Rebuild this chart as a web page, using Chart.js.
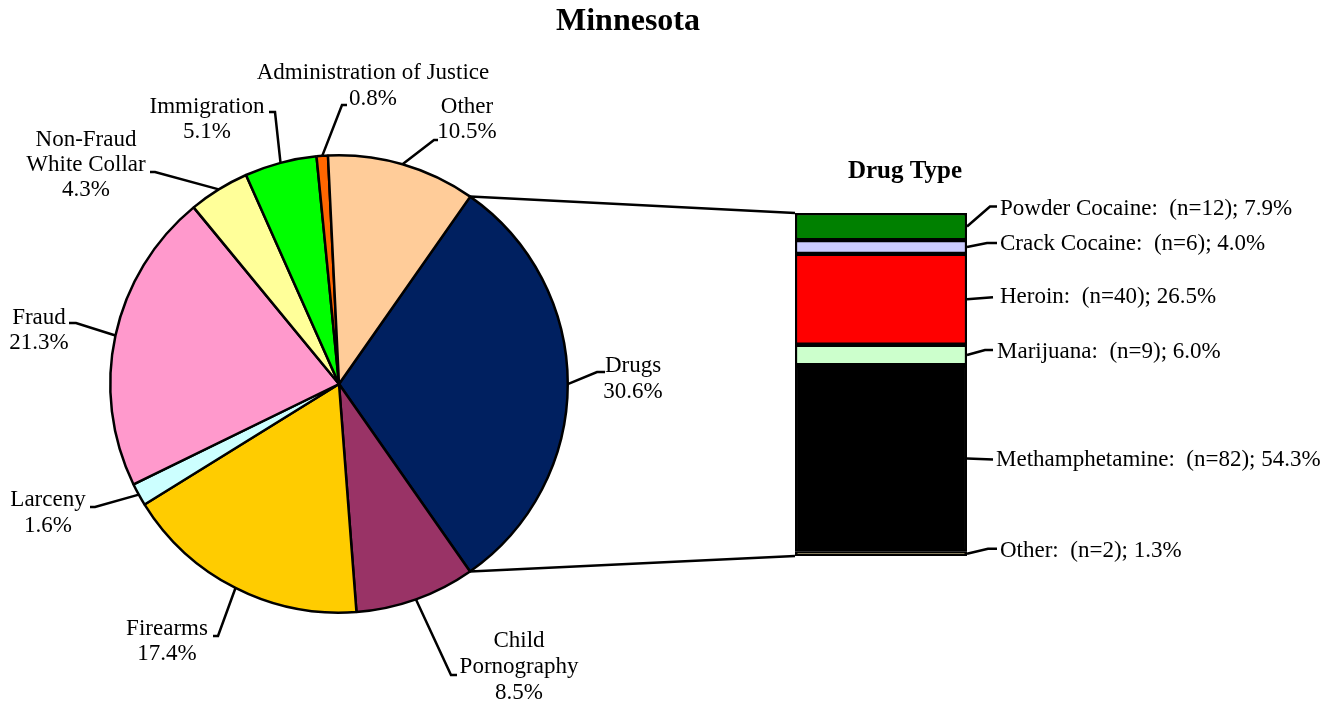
<!DOCTYPE html>
<html>
<head>
<meta charset="utf-8">
<script src="https://cdn.jsdelivr.net/npm/chart.js@4.4.0/dist/chart.umd.min.js"></script>
<style>
  html, body { margin: 0; padding: 0; background: #fff; }
  #wrap { position: relative; width: 1329px; height: 704px; }
  #wrap canvas { position: absolute; left: 0; top: 0; }
</style>
</head>
<body>
<div id="wrap">
  <canvas id="canvas-pie" width="1329" height="704"></canvas>
  <canvas id="canvas-bar" width="1329" height="704"></canvas>
</div>
<script>
// offense categories (pie)
const offenseNames = [['Drugs'], ['Child', 'Pornography'], ['Firearms'], ['Larceny'], ['Fraud'],
    ['Non-Fraud', 'White Collar'], ['Immigration'], ['Administration of Justice'], ['Other']];
const offenseShares = [30.6, 8.5, 17.4, 1.6, 21.3, 4.3, 5.1, 0.8, 10.5];
const offenseColors = ['#002060', '#993366', '#FFCC00', '#CCFFFF', '#FF99CC', '#FFFF99', '#00FF00', '#FF6600', '#FFCC99'];

// drug types (stacked bar), bottom to top
const drugTypes = ['Other', 'Methamphetamine', 'Marijuana', 'Heroin', 'Crack Cocaine', 'Powder Cocaine'];
const drugCounts = [2, 82, 9, 40, 6, 12];
const drugShares = [1.3, 54.3, 6.0, 26.5, 4.0, 7.9];
const drugColors = ['#8C7A3C', '#000000', '#CCFFCC', '#FF0000', '#CCCCFF', '#008000'];

const FONT = "'Liberation Serif', 'Times New Roman', serif";
const LABEL_SIZE = 23;

// label placement relative to pie centre: elbow, end of leader, text centre, line y's
const pieLabelLayout = [
    { ex: 258, ey: -12, hx: 266, tx: 294, ty: [-18, 8] },
    { ex: 112, ey: 291, hx: 118, tx: 180, ty: [257, 283, 309] },
    { ex: -121, ey: 252, hx: -126, tx: -172, ty: [245, 270] },
    { ex: -244, ey: 123, hx: -249, tx: -291, ty: [116, 142] },
    { ex: -263, ey: -61, hx: -270, tx: -300, ty: [-66, -41] },
    { ex: -184, ey: -212, hx: -189, tx: -253, ty: [-244, -219, -194] },
    { ex: -64, ey: -272, hx: -70, tx: -132, ty: [-277, -252] },
    { ex: 3, ey: -279, hx: 8, tx: 34, ty: [-311, -285] },
    { ex: 95, ey: -244, hx: 99, tx: 128, ty: [-277, -252] }
];

// bar label placement relative to the segment's right edge / middle
const barLabelLayout = [
    { ex: 21, ey: -5, hx: 30, tx: 33, ty: -3 },      // Other
    { ex: 26, ey: 1, hx: 26, tx: 29, ty: 2 },        // Methamphetamine
    { ex: 18, ey: -5, hx: 26, tx: 30, ty: -3 },      // Marijuana
    { ex: 26, ey: -2, hx: 26, tx: 33, ty: -2 },      // Heroin
    { ex: 20, ey: -4, hx: 30, tx: 33, ty: -3 },      // Crack Cocaine
    { ex: 23, ey: -20, hx: 30, tx: 33, ty: -18 }     // Powder Cocaine
];

const pieLabels = {
    id: 'pieLabels',
    afterDatasetsDraw(chart) {
        const ctx = chart.ctx;
        const arcs = chart.getDatasetMeta(0).data;
        ctx.save();
        ctx.strokeStyle = '#000';
        ctx.lineWidth = 2.5;
        ctx.fillStyle = '#000';
        ctx.font = LABEL_SIZE + 'px ' + FONT;
        ctx.textAlign = 'center';
        ctx.textBaseline = 'middle';
        arcs.forEach((arc, i) => {
            const cx = arc.x, cy = arc.y;
            const mid = (arc.startAngle + arc.endAngle) / 2;
            const sx = cx + Math.cos(mid) * arc.outerRadius;
            const sy = cy + Math.sin(mid) * arc.outerRadius;
            const lay = pieLabelLayout[i];
            ctx.beginPath();
            ctx.moveTo(sx, sy);
            ctx.lineTo(cx + lay.ex, cy + lay.ey);
            ctx.lineTo(cx + lay.hx, cy + lay.ey);
            ctx.stroke();
            const lines = offenseNames[i].concat([offenseShares[i].toFixed(1) + '%']);
            lines.forEach((t, k) => ctx.fillText(t, cx + lay.tx, cy + lay.ty[k]));
        });
        ctx.font = 'bold 32px ' + FONT;
        ctx.fillText('Minnesota', 628, 22);
        ctx.restore();
    }
};

const pieChart = new Chart(document.getElementById('canvas-pie'), {
    type: 'pie',
    data: {
        labels: offenseNames.map(n => n.join(' ')),
        datasets: [{
            data: offenseShares,
            backgroundColor: offenseColors,
            borderColor: '#000',
            borderWidth: 2.5
        }]
    },
    options: {
        responsive: false,
        animation: false,
        rotation: 35,
        layout: { padding: { left: 109, top: 154, right: 760, bottom: 90 } },
        plugins: { legend: { display: false }, tooltip: { enabled: false } }
    },
    plugins: [pieLabels]
});

const barLabels = {
    id: 'barLabels',
    afterDatasetsDraw(chart) {
        const ctx = chart.ctx;
        ctx.save();
        ctx.strokeStyle = '#000';
        ctx.fillStyle = '#000';
        ctx.lineWidth = 2.5;
        ctx.font = LABEL_SIZE + 'px ' + FONT;
        ctx.textBaseline = 'middle';
        let top = Infinity, bottom = -Infinity, left = 0, right = 0;
        drugTypes.forEach((name, i) => {
            const bar = chart.getDatasetMeta(i).data[0];
            right = bar.x + bar.width / 2;
            left = bar.x - bar.width / 2;
            top = Math.min(top, bar.y);
            bottom = Math.max(bottom, bar.base);
            const my = (bar.y + bar.base) / 2;
            const lay = barLabelLayout[i];
            ctx.beginPath();
            ctx.moveTo(right, my);
            ctx.lineTo(right + lay.ex, my + lay.ey);
            ctx.lineTo(right + lay.hx, my + lay.ey);
            ctx.stroke();
            ctx.textAlign = 'left';
            ctx.fillText(name + ':  (n=' + drugCounts[i] + '); ' + drugShares[i].toFixed(1) + '%', right + lay.tx, my + lay.ty);
        });

        // connector lines from the Drugs slice to the bar
        const drugs = pieChart.getDatasetMeta(0).data[0];
        ctx.lineWidth = 2.5;
        ctx.beginPath();
        ctx.moveTo(drugs.x + Math.cos(drugs.startAngle) * drugs.outerRadius, drugs.y + Math.sin(drugs.startAngle) * drugs.outerRadius);
        ctx.lineTo(left, top);
        ctx.moveTo(drugs.x + Math.cos(drugs.endAngle) * drugs.outerRadius, drugs.y + Math.sin(drugs.endAngle) * drugs.outerRadius);
        ctx.lineTo(left, bottom);
        ctx.stroke();

        ctx.textAlign = 'center';
        ctx.font = 'bold 25px ' + FONT;
        ctx.fillText('Drug Type', (left + right) / 2 + 24, 172);
        ctx.restore();
    }
};

new Chart(document.getElementById('canvas-bar'), {
    type: 'bar',
    data: {
        labels: ['Drugs'],
        datasets: drugTypes.map((name, i) => ({
            label: name,
            data: [drugShares[i]],
            backgroundColor: drugColors[i],
            borderColor: '#000',
            borderWidth: 2.5,
            borderSkipped: false,
            barPercentage: 1,
            categoryPercentage: 1
        }))
    },
    options: {
        responsive: false,
        animation: false,
        layout: { padding: { left: 795, top: 213, right: 362, bottom: 148 } },
        scales: {
            x: { stacked: true, display: false },
            y: { stacked: true, display: false, min: 0, max: 100 }
        },
        plugins: { legend: { display: false }, tooltip: { enabled: false } }
    },
    plugins: [barLabels]
});
</script>
</body>
</html>
